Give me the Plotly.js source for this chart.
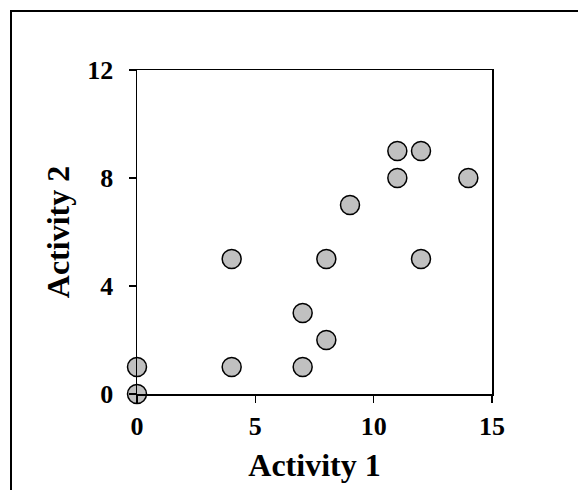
<!DOCTYPE html>
<html>
<head>
<meta charset="utf-8">
<script src="https://cdn.plot.ly/plotly-3.0.1.min.js"></script>
<style>html,body{margin:0;padding:0;background:#fff;}#chart{width:578px;height:490px;}</style>
</head>
<body>
<div id="chart"></div>
<script>
const activity1 = [0, 0, 4, 4, 7, 7, 8, 8, 9, 11, 11, 12, 12, 14];
const activity2 = [0, 1, 1, 5, 1, 3, 2, 5, 7, 8, 9, 9, 5, 8];
const xTicks = [0, 5, 10, 15];
const yTicks = [0, 4, 8, 12];
const xTitle = 'Activity 1';
const yTitle = 'Activity 2';

const L = 137, R = 492, T = 70, B = 394, W = 578, H = 490;
const px = v => (v - L) / (R - L);
const py = v => (B - v) / (B - T);

const fontBase = {family: '"Liberation Serif", "Times New Roman", serif', color: '#000', weight: 'bold'};

const trace = {
  x: activity1, y: activity2, type: 'scatter', mode: 'markers',
  marker: {size: 19, color: '#c0c0c0', line: {color: '#000', width: 1.5}},
  cliponaxis: false, hoverinfo: 'x+y'
};

const axisCommon = {
  showgrid: false, zeroline: false, showline: true, mirror: true,
  linecolor: '#000', linewidth: 1.5, ticks: 'outside', ticklen: 7, tickwidth: 1.5, tickcolor: '#000',
  tickfont: Object.assign({size: 26}, fontBase), fixedrange: true
};

const layout = {
  width: W, height: H,
  margin: {l: L, r: W - R, t: T, b: H - B, autoexpand: false},
  paper_bgcolor: '#fff', plot_bgcolor: '#fff',
  showlegend: false,
  xaxis: Object.assign({}, axisCommon, {
    range: [0, 15], tickvals: xTicks, ticktext: xTicks.map(String),
    ticklabelstandoff: 1,
    title: {text: xTitle, font: Object.assign({size: 32}, fontBase), standoff: 14}
  }),
  yaxis: Object.assign({}, axisCommon, {
    range: [0, 12], tickvals: yTicks, ticktext: yTicks.map(String),
    ticklabelstandoff: 10,
    title: {text: yTitle, font: Object.assign({size: 32}, fontBase), standoff: 8}
  }),
  shapes: [
    {type: 'rect', xref: 'paper', yref: 'paper', x0: px(11), x1: px(579), y0: py(11), y1: py(505),
     line: {color: '#000', width: 2}, fillcolor: 'rgba(0,0,0,0)', layer: 'below'}
  ]
};

Plotly.newPlot('chart', [trace], layout, {displayModeBar: false, staticPlot: true});
</script>
</body>
</html>
